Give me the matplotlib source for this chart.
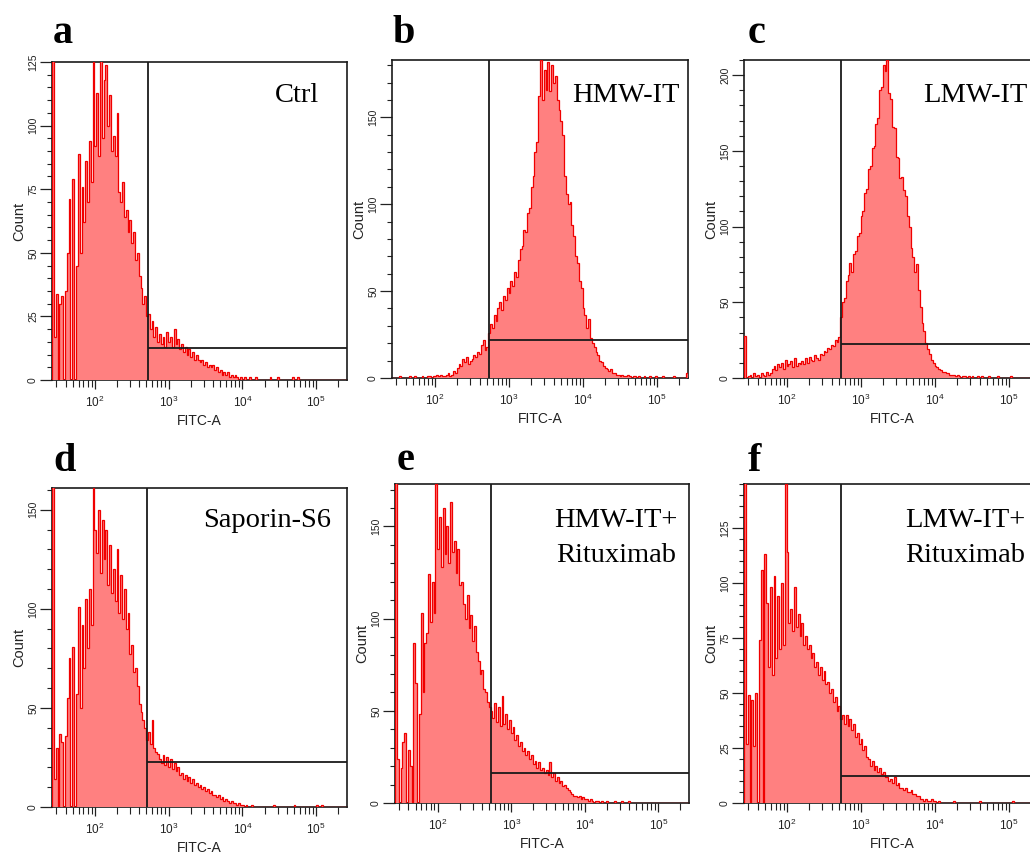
import numpy as np
import matplotlib
matplotlib.use("Agg")
import matplotlib.pyplot as plt
from matplotlib.ticker import LogLocator, MultipleLocator, NullFormatter, LogFormatterSciNotation

plt.rcParams['font.family'] = ['Liberation Sans', 'DejaVu Sans']
plt.rcParams['mathtext.fontset'] = 'custom'
plt.rcParams['mathtext.rm'] = 'Liberation Sans'
plt.rcParams['mathtext.default'] = 'regular'

# ---------------- data ----------------
LOG_START = 1.4185      # log10 of lowest displayed FITC-A value
LOG_SPAN = 4.0          # decades shown
BIN_WIDTH = 0.025       # histogram bin width in decades

panel_letters = ['a', 'b', 'c', 'd', 'e', 'f']
panel_titles = [['Ctrl'], ['HMW-IT'], ['LMW-IT'], ['Saporin-S6'],
                ['HMW-IT+', 'Rituximab'], ['LMW-IT+', 'Rituximab']]
y_max = [125, 183, 210, 161, 173, 145]
y_major = [25, 50, 50, 50, 50, 25]
y_minor = [5, 10, 10, 10, 10, 5]
gate_x = [520, 536, 531, 515, 525, 535]
gate_y = [12.6, 21.9, 22.5, 22.7, 16.3, 12.3]

counts_ctrl = [
    400, 17, 34, 0, 30, 33, 0, 35, 50, 71,
    0, 79, 0, 45, 89, 50, 76, 62, 86, 70,
    94, 78, 125, 92, 113, 88, 126, 95, 118, 124,
    100, 112, 90, 96, 88, 105, 74, 70, 78, 64,
    67, 58, 63, 54, 58, 47, 50, 41, 36, 30,
    33, 25, 26, 20, 23, 17, 21, 15, 18, 14,
    17, 13, 19, 15, 17, 13, 20, 14, 16, 12,
    14, 11, 13, 10, 12, 9, 11, 8, 10, 8,
    7, 8, 6, 7, 5, 6, 5, 6, 4, 5,
    3, 4, 2, 3, 2, 3, 1, 2, 1, 2,
    1, 0, 1, 0, 1, 0, 0, 1, 0, 0,
    1, 0, 0, 0, 0, 0, 0, 0, 1, 0,
    0, 0, 1, 0, 0, 0, 0, 0, 0, 0,
    1, 0, 0, 1, 0, 0, 0, 0, 0, 0,
    0, 0, 0, 0, 0, 0, 0, 0, 0, 0,
    0, 0, 0, 0, 0, 0, 0, 0, 0, 0,
]

counts_hmw = [
    0, 0, 0, 0, 1, 0, 0, 0, 0, 1,
    0, 0, 1, 0, 0, 0, 1, 0, 0, 1,
    1, 0, 1, 1, 2, 1, 2, 1, 1, 2,
    3, 1, 2, 4, 3, 6, 8, 7, 11, 9,
    12, 8, 10, 11, 13, 12, 15, 14, 19, 22,
    16, 18, 26, 31, 29, 36, 33, 40, 44, 39,
    47, 45, 52, 49, 56, 53, 61, 58, 68, 74,
    76, 85, 84, 95, 98, 110, 116, 130, 136, 162,
    183, 160, 177, 166, 182, 165, 180, 170, 174, 160,
    154, 148, 140, 116, 106, 100, 101, 88, 82, 70,
    66, 56, 52, 40, 36, 29, 34, 23, 20, 18,
    15, 13, 10, 9, 7, 6, 5, 4, 5, 3,
    3, 2, 2, 1, 2, 1, 1, 2, 1, 0,
    1, 1, 0, 1, 0, 0, 1, 0, 0, 1,
    0, 0, 1, 0, 0, 0, 1, 0, 0, 0,
    0, 0, 1, 0, 0, 0, 0, 0, 0, 3,
]

counts_lmw = [
    28, 0, 1, 2, 0, 3, 1, 2, 0, 3,
    2, 1, 4, 2, 3, 6, 8, 5, 9, 7,
    10, 6, 12, 8, 9, 11, 7, 13, 8, 10,
    9, 11, 9, 13, 10, 14, 12, 11, 15, 13,
    12, 16, 15, 18, 17, 20, 19, 22, 21, 25,
    24, 27, 40, 50, 53, 64, 68, 76, 70, 82,
    84, 94, 96, 107, 110, 122, 125, 138, 140, 152,
    153, 168, 172, 190, 192, 207, 203, 210, 188, 184,
    166, 165, 146, 145, 132, 133, 124, 120, 107, 100,
    86, 80, 70, 75, 58, 47, 36, 31, 23, 19,
    16, 12, 10, 8, 7, 6, 5, 4, 4, 3,
    3, 2, 2, 2, 1, 2, 1, 0, 1, 1,
    0, 1, 0, 1, 0, 0, 1, 0, 1, 0,
    0, 0, 1, 0, 0, 0, 0, 1, 0, 0,
    0, 0, 0, 0, 1, 0, 0, 0, 0, 0,
    0, 0, 0, 0, 0, 0, 0, 0, 0, 0,
]

counts_saporin = [
    400, 14, 30, 0, 37, 33, 0, 36, 55, 75,
    0, 81, 0, 57, 101, 50, 92, 70, 105, 80,
    110, 92, 161, 140, 128, 150, 118, 145, 125, 140,
    112, 132, 108, 120, 104, 130, 98, 117, 95, 110,
    90, 98, 77, 82, 68, 70, 61, 52, 48, 44,
    40, 34, 38, 32, 44, 30, 28, 27, 24, 22,
    26, 21, 25, 20, 24, 19, 22, 18, 20, 16,
    17, 14, 16, 13, 15, 12, 14, 11, 12, 10,
    11, 9, 10, 8, 9, 7, 8, 6, 6, 5,
    6, 4, 5, 3, 4, 3, 2, 3, 2, 2,
    1, 2, 1, 1, 0, 1, 0, 0, 1, 0,
    0, 0, 0, 0, 0, 0, 0, 0, 0, 0,
    1, 0, 0, 0, 0, 0, 0, 0, 0, 0,
    0, 1, 0, 0, 0, 0, 0, 0, 0, 0,
    0, 0, 0, 1, 0, 0, 1, 0, 0, 0,
    0, 0, 0, 0, 0, 0, 0, 0, 0, 0,
]

counts_hmw_rit = [
    400, 24, 0, 19, 33, 38, 0, 29, 20, 0,
    87, 65, 0, 48, 103, 60, 87, 92, 124, 98,
    120, 103, 173, 138, 155, 128, 160, 135, 150, 130,
    163, 136, 142, 125, 138, 118, 120, 108, 100, 113,
    95, 102, 88, 96, 82, 77, 70, 72, 62, 60,
    55, 52, 50, 46, 54, 44, 52, 42, 58, 43,
    48, 40, 45, 38, 41, 34, 37, 31, 33, 28,
    30, 26, 28, 24, 26, 21, 23, 19, 22, 18,
    19, 16, 18, 15, 22, 14, 16, 12, 14, 11,
    12, 9, 10, 8, 7, 6, 5, 4, 4, 3,
    4, 2, 3, 2, 2, 1, 2, 1, 0, 1,
    1, 0, 1, 0, 0, 1, 0, 0, 0, 1,
    0, 0, 0, 1, 0, 0, 0, 1, 0, 0,
    0, 0, 0, 0, 0, 0, 0, 0, 0, 0,
    0, 0, 0, 0, 0, 0, 0, 0, 0, 0,
    0, 0, 0, 0, 0, 0, 0, 0, 0, 0,
]

counts_lmw_rit = [
    400, 27, 49, 0, 47, 26, 50, 0, 74, 106,
    0, 113, 91, 62, 98, 58, 103, 66, 94, 70,
    100, 72, 145, 114, 82, 88, 78, 98, 80, 86,
    76, 82, 72, 76, 70, 72, 66, 68, 62, 64,
    58, 62, 56, 60, 54, 55, 50, 52, 46, 48,
    42, 44, 38, 40, 36, 40, 35, 38, 33, 36,
    30, 32, 27, 29, 24, 26, 21, 20, 17, 19,
    15, 17, 14, 16, 13, 14, 12, 12, 10, 11,
    9, 12, 8, 9, 7, 7, 6, 7, 5, 5,
    6, 4, 4, 3, 3, 2, 2, 1, 2, 1,
    1, 2, 1, 1, 0, 1, 0, 0, 0, 0,
    0, 0, 0, 1, 0, 0, 0, 0, 0, 0,
    0, 0, 0, 0, 0, 0, 0, 1, 0, 0,
    0, 0, 0, 0, 0, 0, 0, 0, 0, 0,
    0, 0, 0, 0, 0, 1, 0, 0, 0, 0,
    0, 0, 0, 0, 0, 0, 0, 0, 0, 0,
]

all_counts = [counts_ctrl, counts_hmw, counts_lmw,
              counts_saporin, counts_hmw_rit, counts_lmw_rit]

# ---------------- layout (pixels) ----------------
W, H = 1030, 857
axes_px = [(52, 62, 347, 380), (392, 60, 688, 378), (744, 60, 1040, 378),
           (52, 488, 347, 807), (395, 484, 689, 803), (744, 484, 1040, 803)]
letter_px = [(53, 43), (393, 43), (748, 43), (53, 471), (397, 470), (748, 471)]
title_px = [(297, 102), (626, 102), (975, 102), (267, 527), (616, 527), (965, 527)]
LINE_GAP = 35

FILL = '#ff8080'
EDGE = '#f00000'

fig = plt.figure(figsize=(W / 100, H / 100), dpi=100)

def fx(x):
    return x / W

def fy(y):
    return 1 - y / H

for k in range(6):
    l, t, r, b = axes_px[k]
    ax = fig.add_axes([fx(l), fy(b), (r - l) / W, (b - t) / H])
    vals = np.asarray(all_counts[k], dtype=float)
    edges = 10 ** (LOG_START + BIN_WIDTH * np.arange(len(vals) + 1))
    ax.stairs(vals, edges, fill=True, facecolor=FILL, edgecolor='none', zorder=3)
    ax.stairs(vals, edges, color=EDGE, lw=0.9, zorder=3.2)

    xmin, xmax = 10 ** LOG_START, 10 ** (LOG_START + LOG_SPAN)
    ax.set_xscale('log')
    ax.set_xlim(xmin, xmax)
    ax.set_ylim(0, y_max[k])

    # gate marker
    ax.axvline(gate_x[k], color='#1a1a1a', lw=1.3, zorder=4)
    ax.plot([gate_x[k], xmax], [gate_y[k], gate_y[k]], color='#1a1a1a', lw=1.3,
            zorder=4, clip_on=False, solid_capstyle='butt')

    ax.xaxis.set_major_locator(LogLocator(base=10, numticks=10))
    ax.xaxis.set_minor_locator(LogLocator(base=10, subs=np.arange(2, 10), numticks=20))
    ax.xaxis.set_major_formatter(LogFormatterSciNotation())
    ax.xaxis.set_minor_formatter(NullFormatter())
    ax.yaxis.set_major_locator(MultipleLocator(y_major[k]))
    ax.yaxis.set_minor_locator(MultipleLocator(y_minor[k]))

    ax.tick_params(axis='x', which='major', direction='out', length=6.5, width=0.9,
                   labelsize=8.5, pad=4.5, colors='#222222')
    ax.tick_params(axis='x', which='minor', direction='out', length=5, width=0.8,
                   colors='#222222')
    ax.tick_params(axis='y', which='major', direction='out', length=8.5, width=0.9,
                   labelsize=7.5, pad=1.5, labelrotation=90, colors='#222222')
    ax.tick_params(axis='y', which='minor', direction='out', length=3.5, width=0.8,
                   colors='#222222')
    for lab in ax.get_yticklabels():
        lab.set_va('center')

    for s in ax.spines.values():
        s.set_linewidth(1.2)
        s.set_color('#1a1a1a')

    ax.set_xlabel('FITC-A', fontsize=10, labelpad=2.5, color='#222222')
    ax.set_ylabel('Count', fontsize=10.5, labelpad=1.5, color='#222222')

    lx, ly = letter_px[k]
    fig.text(fx(lx), fy(ly), panel_letters[k], family=['Liberation Serif', 'DejaVu Serif'],
             fontweight='bold', fontsize=29, ha='left', va='baseline')
    cx, cy = title_px[k]
    for j, line in enumerate(panel_titles[k]):
        fig.text(fx(cx), fy(cy + j * LINE_GAP), line,
                 family=['Liberation Serif', 'DejaVu Serif'],
                 fontsize=20.5, ha='center', va='baseline')

fig.savefig('out.png', dpi=100)
